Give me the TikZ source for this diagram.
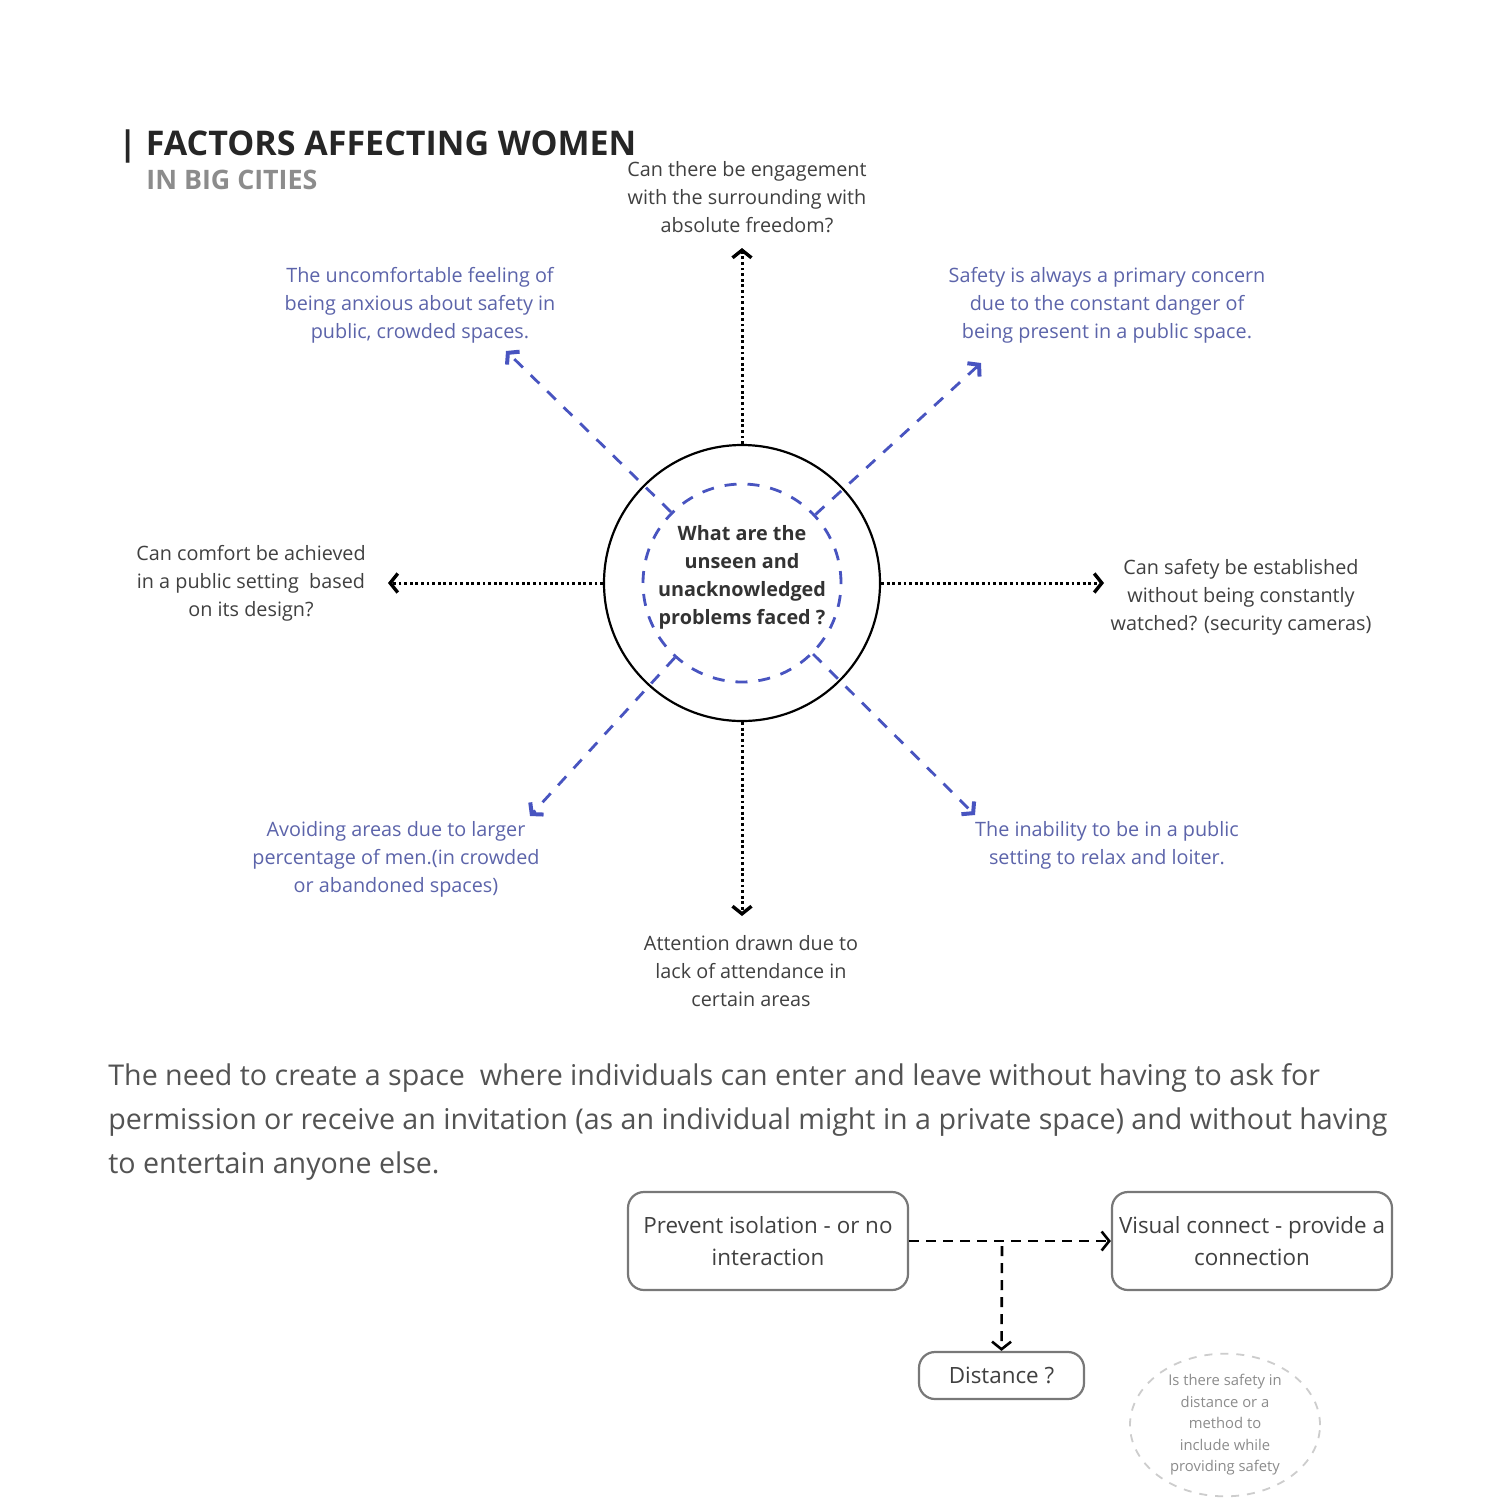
\documentclass[tikz,border=0pt]{standalone}
\usepackage{fontspec}
\setmainfont{Open Sans}
\usepackage{xcolor}
\usepackage{tikz}
\usetikzlibrary{calc}
\usetikzlibrary{arrows.meta}
\usetikzlibrary{shapes}
\usetikzlibrary{positioning}
\usetikzlibrary{shapes.geometric}
\tikzset{>=latex}
\definecolor{inkgray}{RGB}{64,64,64}
\definecolor{titlegray}{RGB}{140,140,140}
\definecolor{softblue}{RGB}{92,100,170}
\definecolor{dashblue}{RGB}{72,84,192}
\definecolor{boxgray}{RGB}{120,120,120}
\definecolor{faintgray}{RGB}{205,205,205}
\tikzstyle{txt} = [inner sep=0pt, align=center, text=inkgray, font=\fontsize{9.9}{14}\selectfont]
\tikzstyle{bluetxt} = [txt, text=softblue]
\tikzstyle{dots} = [draw=black, line width=1.5pt, dash pattern=on 1.4pt off 1.4pt, -{Straight Barb[length=3.8pt, width=9.5pt, line width=1.7pt]}]
\tikzstyle{bluedash} = [draw=dashblue, line width=1.4pt, dash pattern=on 6pt off 5.5pt, -{Straight Barb[length=3.8pt, width=9pt, line width=2pt]}]
\tikzstyle{flowdash} = [draw=black, line width=1.3pt, dash pattern=on 5pt off 3.5pt, -{Straight Barb[length=3.8pt, width=9.5pt, line width=1.3pt]}]
\tikzstyle{card} = [draw=boxgray, line width=1.1pt, rounded corners=8pt, inner xsep=2pt, align=center, text=inkgray, font=\fontsize{11.2}{16}\selectfont]

\begin{document}
\begin{tikzpicture}[x=0.5pt, y=-0.5pt]
\useasboundingbox [fill=white] (0, 0) rectangle (1511, 1511);
% title
\node [anchor=base west, inner sep=0pt, text=black!85, font=\bfseries\fontsize{17}{20}\selectfont] (T) at (118, 155) {| FACTORS AFFECTING WOMEN};
\node [anchor=base west, inner sep=0pt, text=titlegray, font=\bfseries\fontsize{13.4}{16}\selectfont] (T2) at (146, 189) {IN BIG CITIES};
% centre
\node [circle, draw=black, line width=1.1pt, minimum size=138pt, inner sep=0pt] (Q) at (742, 583) {};
\node [circle, draw=dashblue, line width=1.4pt, dash pattern=on 6pt off 5.5pt, minimum size=99pt, inner sep=0pt] (I) at (742, 583) {};
\node [txt, text=black!80, font=\bfseries\fontsize{9.9}{14}\selectfont] (Qt) at (742, 577) {What are the\\unseen and\\unacknowledged\\problems faced ?};
% questions
\node [txt] (U) at (747, 197) {Can there be engagement\\with the surrounding with\\absolute freedom?};
\node [txt] (L) at (251, 583) {Can comfort be achieved\\in a public setting\ \ based\\on its design?};
\node [txt] (R) at (1241, 597) {Can safety be established\\without being constantly\\watched? (security cameras)};
\node [txt] (D) at (751, 971) {Attention drawn due to\\lack of attendance in\\certain areas};
\node [bluetxt] (UL) at (420, 305) {The uncomfortable feeling of\\being anxious about safety in\\public, crowded spaces.};
\node [bluetxt] (UR) at (1107, 305) {Safety is always a primary concern\\due to the constant danger of\\being present in a public space.};
\node [bluetxt] (LL) at (396, 859) {Avoiding areas due to larger\\percentage of men.(in crowded\\or abandoned spaces)};
\node [bluetxt] (LR) at (1107, 845) {The inability to be in a public\\setting to relax and loiter.};
\coordinate (tU) at (742, 248);
\coordinate (tL) at (388, 583);
\coordinate (tR) at (1104, 583);
\coordinate (tD) at (742, 916);
\coordinate (tUL) at (506, 351);
\coordinate (tUR) at (981, 363);
\coordinate (tLL) at (530, 816);
\coordinate (tLR) at (975, 815);
\draw [dots] (Q.north) to (tU);
\draw [dots] (Q.west) to (tL);
\draw [dots] (Q.east) to (tR);
\draw [dots] (Q.south) to (tD);
\draw [bluedash] (I.135) to (tUL);
\draw [bluedash] (I.43) to (tUR);
\draw [bluedash] (I.228) to (tLL);
\draw [bluedash] (I.315) to (tLR);
% paragraph
\node [anchor=west, inner sep=0pt, align=left, text=inkgray!90, font=\fontsize{14.3}{22}\selectfont] (P) at (108, 1122) {The need to create a space\ \ where individuals can enter and leave without having to ask for\\permission or receive an invitation (as an individual might in a private space) and without having\\to entertain anyone else.};
% flow
\node [card, minimum width=140pt, minimum height=49pt] (B1) at (768, 1241) {Prevent isolation - or no\\interaction};
\node [card, minimum width=140pt, minimum height=49pt] (B2) at (1252, 1241) {Visual connect - provide a\\connection};
\node [card, minimum width=82.5pt, minimum height=23.5pt] (B3) at (1001.5, 1375.5) {Distance ?};
\coordinate (J) at (1002, 1246);
\draw [flowdash] (B1.east) to (B2.west);
\draw [flowdash] (J) to (B3.north);
\node [ellipse, draw=faintgray, line width=0.9pt, dash pattern=on 4pt off 4pt, minimum width=95pt, minimum height=70pt, inner sep=0pt, align=center, text=black!45, font=\fontsize{7.4}{10.75}\selectfont] (S) at (1225, 1425) {Is there safety in\\distance or a\\method to\\include while\\providing safety};
\end{tikzpicture}
\end{document}
